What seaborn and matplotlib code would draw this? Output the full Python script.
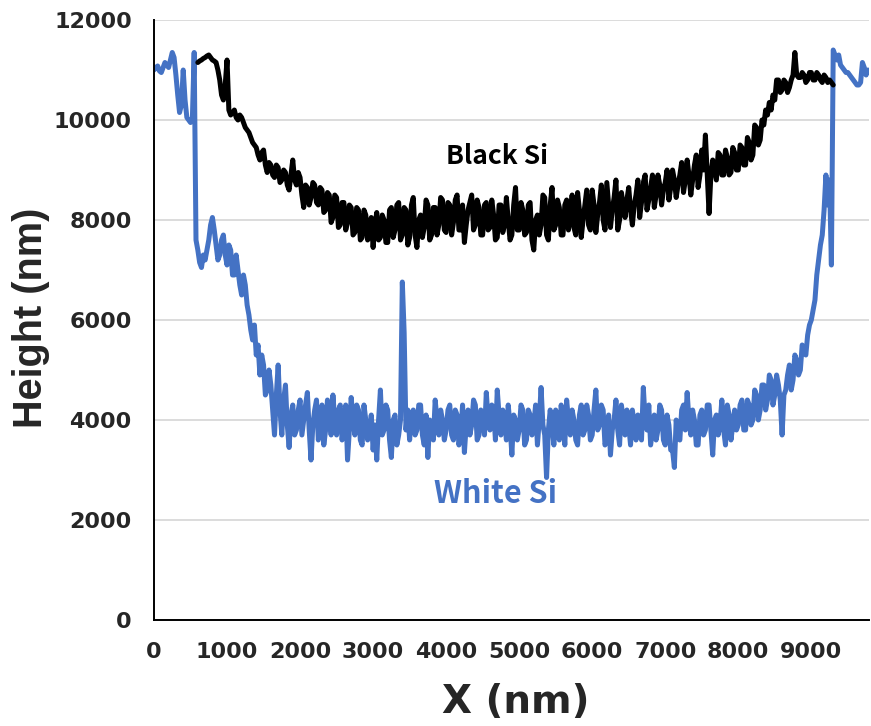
import numpy as np
import pandas as pd
import matplotlib
matplotlib.use("Agg")
import matplotlib.pyplot as plt
import seaborn as sns

# ---------------- data (25 nm sampling) ----------------
white_x_start = 0
black_x_start = 600
x_step = 25

white_si = [
    11000, 11050, 11080, 10980, 10950, 11050, 11150, 11100, 11050, 11200,
    11350, 11250, 10900, 10500, 10150, 10300, 11000, 10400, 10050, 10000,
    9950, 10000, 11350, 7600, 7400, 7150, 7050, 7300, 7200, 7400,
    7600, 7900, 8050, 7800, 7500, 7200, 7300, 7600, 7700, 7300,
    7100, 7500, 7400, 6900, 6900, 7300, 7000, 6700, 6500, 6900,
    6700, 6300, 6100, 5800, 5600, 5900, 5300, 5500, 4900, 5300,
    5100, 4500, 4600, 5000, 4700, 4200, 3700, 4500, 5100, 4200,
    3700, 4400, 4700, 3900, 3450, 4100, 4300, 3700, 3800, 4200,
    4400, 3700, 4000, 4300, 4550, 3800, 3200, 3900, 4200, 4400,
    3600, 3900, 4300, 3500, 3800, 4400, 4100, 3700, 4500, 4000,
    3700, 4200, 4300, 3600, 3900, 4300, 3200, 3800, 4450, 4000,
    3700, 4300, 4200, 3600, 3500, 4300, 4000, 3600, 3800, 4100,
    3400, 3900, 3200, 4000, 4600, 3700, 3800, 4300, 4200, 3600,
    3250, 4000, 4100, 3500, 3700, 4000, 6760, 5750, 3800, 4200,
    3600, 4100, 4200, 3700, 3800, 4300, 4300, 3700, 3500, 4100,
    3250, 4000, 3900, 3600, 4400, 4000, 3700, 4200, 4000, 3600,
    3800, 4200, 4300, 3700, 3600, 4200, 4100, 3500, 3700, 4300,
    3350, 3900, 4200, 3700, 3900, 4400, 4300, 3600, 3700, 4200,
    4100, 3700, 4550, 4000, 3800, 4300, 4200, 3600, 4600, 4100,
    3700, 4200, 4000, 3600, 4300, 3900, 3300, 4100, 4000, 3600,
    3800, 4300, 4200, 3500, 3600, 4200, 4100, 3700, 3900, 4300,
    3500, 4000, 4650, 3900, 3700, 2850, 3800, 4200, 3900, 3500,
    4200, 3800, 3600, 4300, 4000, 3500, 4400, 4000, 3700, 4200,
    4000, 3600, 3500, 4100, 4300, 3700, 3800, 4300, 4100, 3600,
    3700, 4200, 4600, 3800, 3900, 4300, 4200, 3500, 3600, 4100,
    3300, 3800, 4000, 4400, 3800, 3500, 4300, 4000, 3700, 4200,
    3900, 3500, 4200, 3900, 3600, 4100, 4000, 3600, 4650, 4000,
    3800, 4300, 3500, 3800, 4100, 3600, 3800, 4300, 4200, 3600,
    3500, 4100, 3900, 3400, 3400, 3050, 4000, 3700, 3600, 4200,
    4300, 3800, 4550, 4000, 3700, 4200, 4000, 3500, 3500, 4100,
    4200, 3700, 3800, 4300, 4300, 3800, 3300, 4000, 4100, 3700,
    3900, 4400, 3800, 3500, 4300, 4100, 3600, 3900, 4200, 3800,
    3900, 4300, 4400, 3800, 3800, 4400, 4300, 3900, 4000, 4600,
    4500, 4000, 4200, 4700, 4700, 4200, 4400, 4900, 4800, 4300,
    4500, 4900, 4700, 4400, 3700, 4500, 4600, 4900, 5100, 4600,
    4800, 5300, 5200, 4900, 5000, 5500, 5400, 5300, 5700, 5900,
    6000, 6200, 6400, 6900, 7200, 7500, 7700, 8200, 8900, 8300,
    8800, 7100, 11400, 11300, 11200, 11300, 11100, 11050, 11000, 10950,
    10950, 10900, 10850, 10800, 10750, 10700, 10700, 10750, 11150, 11050,
    10900, 11000,
]

black_si = [
    11150, 11180, 11200, 11230, 11250, 11280, 11300, 11250, 11200, 11180,
    11150, 11000, 10800, 10500, 10400, 10700, 11200, 10200, 10100, 10150,
    10200, 10050, 10000, 10100, 10050, 9950, 9850, 9800, 9750, 9650,
    9550, 9500, 9450, 9300, 9200, 9350, 9400, 9100, 8950, 9150,
    9100, 8900, 8850, 9100, 9050, 8750, 8800, 9000, 8950, 8700,
    8600, 8900, 9200, 8800, 8700, 8950, 8850, 8500, 8250, 8700,
    8650, 8300, 8450, 8750, 8700, 8350, 8300, 8650, 8600, 8150,
    8200, 8550, 8500, 7950, 8050, 8500, 8450, 7850, 7900, 8350,
    8350, 7800, 7950, 8300, 8250, 7700, 7750, 8250, 8200, 7600,
    7650, 8200, 8100, 7600, 7700, 8050, 7450, 7900, 8150, 7600,
    7650, 8100, 8000, 7550, 7550, 8200, 8250, 7650, 7800, 8300,
    8350, 7600, 7700, 8250, 8200, 7500, 7650, 8300, 8450, 7700,
    7450, 8000, 8100, 7650, 7850, 8400, 8300, 7600, 7700, 8250,
    8250, 7700, 7900, 8450, 8400, 7800, 7750, 8350, 8300, 7700,
    7950, 8400, 8500, 7800, 7800, 8300, 7550, 7900, 8200, 8350,
    8500, 7800, 7900, 8400, 8250, 7700, 7700, 8300, 8350, 7800,
    7850, 8400, 8100, 7600, 7650, 8300, 8300, 7750, 7900, 8450,
    8000, 7600, 7700, 8300, 8650, 7800, 7800, 8350, 8200, 7700,
    7750, 8300, 8350, 7600, 7400, 8000, 8100, 7700, 7900, 8500,
    8450, 7700, 7600, 8300, 8650, 7800, 7900, 8400, 8250, 7700,
    7700, 8300, 8400, 7800, 8100, 8500, 7850, 7700, 8550, 8200,
    7650, 8000, 8300, 8600, 7900, 7800, 8600, 8300, 7750, 8100,
    8350, 8700, 8000, 7800, 8750, 8300, 7850, 8200, 8450, 8800,
    7800, 8000, 8550, 8300, 8050, 8400, 8650, 8200, 7900, 8300,
    8500, 8800, 8050, 8350, 8750, 8900, 8200, 8400, 8650, 8900,
    8250, 8500, 8900, 8700, 8300, 8600, 8750, 9000, 8400, 8650,
    9000, 8800, 8450, 8700, 8900, 9150, 8550, 8800, 9200, 8900,
    8500, 8800, 9100, 9300, 8650, 8900, 9400, 9000, 9700, 8900,
    8130, 8900, 9200, 9000, 8800, 9350, 9300, 8900, 8900, 9400,
    9250, 8900, 8950, 9450, 9350, 9000, 9000, 9500, 9450, 9100,
    9100, 9650, 9550, 9200, 9300, 9900, 9850, 9500, 9600, 10000,
    9900, 10200, 10100, 10350, 10200, 10500, 10400, 10800, 10800, 10550,
    10600, 10800, 10750, 10550, 10650, 10800, 10900, 11350, 10900, 10850,
    10850, 10950, 10900, 10750, 10800, 10950, 10950, 10800, 10800, 10950,
    10900, 10800, 10750, 10900, 10850, 10750, 10800, 10750, 10700,
]

y_ticks = [0, 2000, 4000, 6000, 8000, 10000, 12000]
x_ticks = [0, 1000, 2000, 3000, 4000, 5000, 6000, 7000, 8000, 9000]
series_names = ["Black Si", "White Si"]
series_colors = ["#000000", "#4472C4"]

# ---------------- frames ----------------
white_df = pd.DataFrame({
    "X": white_x_start + x_step * np.arange(len(white_si)),
    "Height": white_si,
})
black_df = pd.DataFrame({
    "X": black_x_start + x_step * np.arange(len(black_si)),
    "Height": black_si,
})

# ---------------- figure ----------------
sns.set_style("white")
plt.rcParams["font.family"] = ["DejaVu Sans"]

fig = plt.figure(figsize=(8.71, 7.26), dpi=100)
ax = fig.add_axes([154 / 871, 1 - 620 / 726, (869 - 154) / 871, 600 / 726])

sns.lineplot(data=white_df, x="X", y="Height", ax=ax, color=series_colors[1],
             linewidth=3.6, estimator=None, sort=False)
sns.lineplot(data=black_df, x="X", y="Height", ax=ax, color=series_colors[0],
             linewidth=3.6, estimator=None, sort=False)

ax.set_xlim(0, 9790)
ax.set_ylim(0, 12000)
ax.set_yticks(y_ticks)
ax.set_xticks(x_ticks)
ax.set_yticklabels([str(v) for v in y_ticks])
ax.set_xticklabels([str(v) for v in x_ticks])

ax.grid(axis="y", color="#D9D9D9", linewidth=1.3)
ax.grid(axis="x", visible=False)
ax.set_axisbelow(True)

for side in ["top", "right"]:
    ax.spines[side].set_visible(False)
for side in ["left", "bottom"]:
    ax.spines[side].set_color("black")
    ax.spines[side].set_linewidth(1.4)

ax.tick_params(axis="both", direction="in", length=5, width=1.2,
               color="black", labelsize=16, pad=16)
for lab in ax.get_xticklabels() + ax.get_yticklabels():
    lab.set_fontweight("bold")
    lab.set_family("DejaVu Sans")

ax.set_xlabel("X (nm)", fontsize=28, fontweight="bold", family="DejaVu Sans")
ax.set_ylabel("Height (nm)", fontsize=28.5, fontweight="bold",
              family="Liberation Sans")
ax.xaxis.set_label_coords(0.506, -0.105)
ax.yaxis.set_label_coords(-0.1455, 0.503)

ax.text(4692, 9260, series_names[0], color=series_colors[0], fontsize=19,
        fontweight="bold", family=["Noto Sans CJK SC", "DejaVu Sans"],
        ha="center", va="center")
ax.text(4680, 2520, series_names[1], color=series_colors[1], fontsize=22,
        fontweight="bold", family=["Noto Sans CJK SC", "DejaVu Sans"],
        ha="center", va="center")

fig.savefig("out.png", dpi=100)
